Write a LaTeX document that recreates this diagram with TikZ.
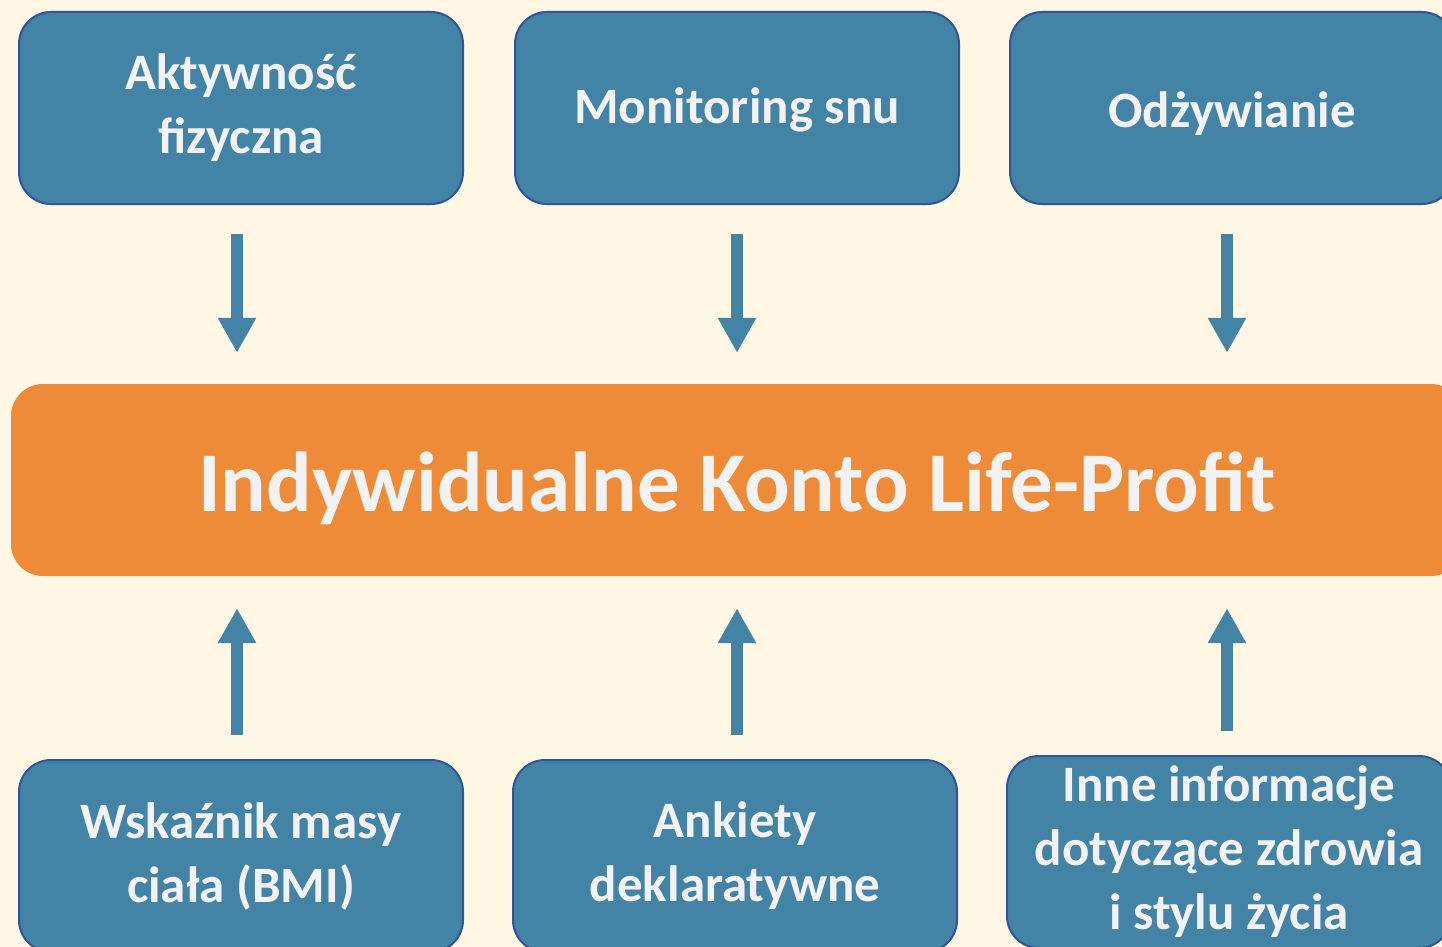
\documentclass[tikz,border=0pt]{standalone}
\usepackage{fontspec}
\setmainfont{Carlito}
\usetikzlibrary{shapes,arrows.meta}

\definecolor{cream}{HTML}{FFF6E3}
\definecolor{boxblue}{HTML}{4283A6}
\definecolor{boxedge}{HTML}{2F5597}
\definecolor{kontoorange}{HTML}{EE8B39}
\definecolor{textgray}{HTML}{F2F2F2}

\begin{document}
\begin{tikzpicture}[x=1pt, y=-1pt, >={Triangle[width=36pt,length=35pt]},
  source/.style={draw=boxedge, line width=2pt, fill=boxblue, rounded corners=32pt,
    minimum width=444pt, minimum height=192pt, inner sep=0pt, align=center,
    text=textgray, font=\fontsize{51}{64}\selectfont\bfseries},
  konto/.style={fill=kontoorange, rounded corners=32pt, minimum width=1452pt,
    minimum height=192pt, inner sep=0pt, text height=62pt, text depth=0pt,
    text=textgray, font=\fontsize{85}{100}\selectfont\bfseries},
  flowdown/.style={->, draw=boxblue, line width=12pt, shorten <=29pt, shorten >=31pt},
  flowup/.style={->, draw=boxblue, line width=12pt, shorten <=24pt, shorten >=32pt}]

\useasboundingbox (0,0) rectangle (1442,947);
\fill[cream] (0,0) rectangle (1442,947);

% top row
\node[source] (akt)  at (241,108)  {Aktywność\\fizyczna};
\node[source, text height=40pt, text depth=8pt] (sen)  at (737,108)  {Monitoring snu};
\node[source, text height=48pt, text depth=8pt] (diet) at (1232,108) {Odżywianie};

% account
\node[konto] (konto) at (737,480) {Indywidualne Konto Life-Profit};

% bottom row
\node[source] (bmi)     at (241,856)  {Wskaźnik masy\\ciała (BMI)};
\node[source] (ankiety) at (735,856)  {Ankiety\\deklaratywne};
\node[source] (inne)    at (1229,852) {Inne informacje\\dotyczące zdrowia\\i stylu życia};

% arrows
\draw[flowdown] ([xshift=-4pt]akt.south) -- ([xshift=-4pt]akt.south |- konto.north);
\draw[flowdown] (sen.south) -- (sen.south |- konto.north);
\draw[flowdown] ([xshift=-5pt]diet.south) -- ([xshift=-5pt]diet.south |- konto.north);

\draw[flowup] ([xshift=-4pt]bmi.north) -- ([xshift=-4pt]bmi.north |- konto.south);
\draw[flowup] ([xshift=2pt]ankiety.north) -- ([xshift=2pt]ankiety.north |- konto.south);
\draw[flowup] ([xshift=-2pt]inne.north) -- ([xshift=-2pt]inne.north |- konto.south);

\end{tikzpicture}
\end{document}
